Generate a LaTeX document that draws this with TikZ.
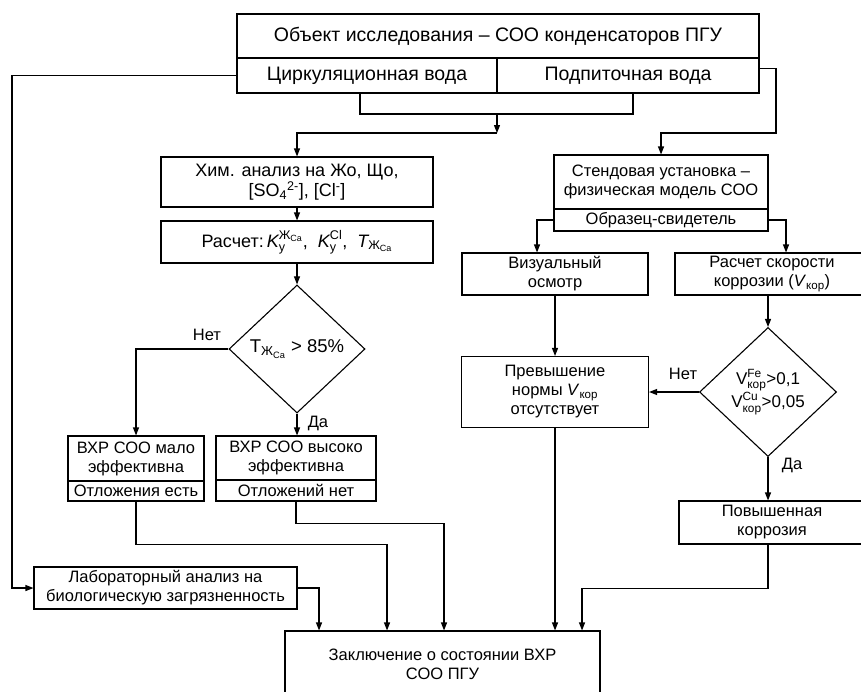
\documentclass[tikz,border=0pt]{standalone}
\usepackage{amsmath}
\usepackage{fontspec}
\setmainfont{Liberation Sans}
\usetikzlibrary{shapes.geometric,arrows.meta}

\begin{document}
\begin{tikzpicture}[x=1pt, y=-1pt, line width=1.1pt,
		box_style/.style={rectangle,draw=black,inner sep=2pt,align=center,font=\fontsize{16.5}{19}\selectfont},
		top_style/.style={box_style,font=\fontsize{19.5}{22}\selectfont},
		big_style/.style={box_style,font=\fontsize{18}{20.5}\selectfont},
		cond_style/.style={diamond,draw=black,inner sep=0pt,align=center},
		label_style/.style={font=\fontsize{16.5}{19}\selectfont},
		edge_style/.style={draw=black},
		arrow_style/.style={draw=black,-{Triangle[length=8pt,width=6pt]}}]

		\useasboundingbox (0,0) rectangle (861,691);

		\node[top_style, minimum width=522pt, minimum height=44pt] (obj) at (498,36) {Объект исследования – СОО конденсаторов ПГУ};
		\node[top_style, minimum width=260pt, minimum height=35pt] (circ) at (367,75.5) {Циркуляционная вода};
		\node[top_style, minimum width=262pt, minimum height=35pt] (makeup) at (628,75.5) {Подпиточная вода};

		\node[big_style, minimum width=272pt, minimum height=50pt] (chem) at (297,182) {Хим. анализ на Жо, Що,\\{}[SO\textsubscript{4}\textsuperscript{2-}], [Cl\textsuperscript{-}]};
		\node[big_style, minimum width=272pt, minimum height=42pt] (calc) at (297,242) {Расчет:\,$\textit{K}_{\text{у}}^{\text{Ж}_{\text{Ca}}}$,\ \ $\textit{K}_{\text{у}}^{\text{Cl}}$,\ \ $\textit{T}_{\text{Ж}_{\text{Ca}}}$};
		\node[cond_style, minimum width=136pt, minimum height=128pt, font=\fontsize{18.5}{21}\selectfont] (cond) at (297,349) {$\text{T}_{\text{Ж}_{\text{Ca}}}$ > 85\%};
		\node[label_style] (no1) at (207,335) {Нет};
		\node[label_style] (yes1) at (318,423) {Да};

		\node[box_style, minimum width=136pt, minimum height=45pt] (malo) at (136,458.5) {ВХР СОО мало\\ эффективна};
		\node[box_style, minimum width=136pt, minimum height=20pt] (malo_dep) at (136,491) {Отложения есть};
		\node[box_style, minimum width=160pt, minimum height=44pt] (high) at (296,458) {ВХР СОО высоко\\ эффективна};
		\node[box_style, minimum width=160pt, minimum height=21pt] (high_dep) at (296,490.5) {Отложений нет};

		\node[box_style, minimum width=263pt, minimum height=42pt] (lab) at (165.5,588) {Лабораторный анализ на\\ биологическую загрязненность};
		\node[box_style, minimum width=315pt, minimum height=66pt] (concl) at (442.5,664) {Заключение о состоянии ВХР\\ СОО ПГУ};

		\node[box_style, minimum width=214pt, minimum height=54pt] (stand) at (661,182) {Стендовая установка –\\ физическая модель СОО};
		\node[box_style, minimum width=214pt, minimum height=22pt] (witness) at (661,220) {Образец-свидетель};
		\node[box_style, minimum width=186pt, minimum height=42pt] (visual) at (555,274) {Визуальный\\ осмотр};
		\node[box_style, minimum width=194pt, minimum height=42pt] (rate) at (772,274) {Расчет скорости\\ коррозии (\textit{V}\textsubscript{кор})};
		\node[cond_style, minimum width=137pt, minimum height=129pt, font=\fontsize{17}{22}\selectfont] (limit) at (768,392) {$\text{V}_{\text{кор}}^{\text{Fe}}$>0,1\\ $\text{V}_{\text{кор}}^{\text{Cu}}$>0,05};
		\node[label_style] (no2) at (683,374) {Нет};
		\node[label_style] (yes2) at (792,465) {Да};
		\node[box_style, minimum width=187pt, minimum height=71pt] (normal) at (555,392) {Превышение\\ нормы \textit{V}\textsubscript{кор}\\ отсутствует};
		\node[box_style, minimum width=186pt, minimum height=43pt] (high_corr) at (772,522.5) {Повышенная\\ коррозия};

		\coordinate (junc) at (497,114);
		\coordinate (split) at (497,133);

		\draw[arrow_style] (circ.west) -- (12,75.5) |- (lab.west);
		\draw[arrow_style] ([yshift=7pt]makeup.east) -| (776,133) -| (stand.north);
		\draw[edge_style] ([xshift=-7pt]circ.south) |- (junc) -| ([xshift=5pt]makeup.south);
		\draw[arrow_style] (junc) -- (split);
		\draw[arrow_style] (split) -| (chem.north);
		\draw[arrow_style] (chem) -- (calc);
		\draw[arrow_style] (calc) -- (cond);
		\draw[arrow_style] (cond.west) -| (malo.north);
		\draw[arrow_style] (cond.south) -- (cond.south |- high.north);
		\draw[arrow_style] (malo_dep.south) -- ++(0,43) -| ([xshift=-55.5pt]concl.north);
		\draw[arrow_style] (high_dep.south) -- ++(0,22) -| ([xshift=1.5pt]concl.north);
		\draw[arrow_style] (lab.east) -| ([xshift=-123.5pt]concl.north);
		\draw[arrow_style] (witness.west) -| ([xshift=-18pt]visual.north);
		\draw[arrow_style] (witness.east) -| ([xshift=14pt]rate.north);
		\draw[arrow_style] (visual) -- (normal);
		\draw[arrow_style] ([xshift=-4pt]rate.south) -- (limit.north);
		\draw[arrow_style] (limit.west) -- (normal.east);
		\draw[arrow_style] (limit.south) -- ([xshift=-4pt]high_corr.north);
		\draw[arrow_style] (normal.south) -- (normal.south |- concl.north);
		\draw[arrow_style] ([xshift=-4pt]high_corr.south) -- ++(0,44) -| ([xshift=139.5pt]concl.north);

\end{tikzpicture}
\end{document}
